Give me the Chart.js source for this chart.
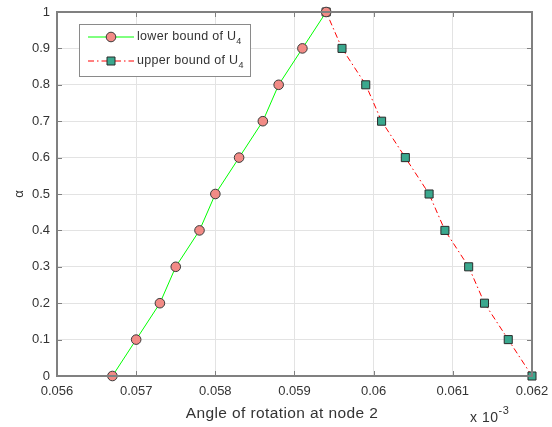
<!DOCTYPE html>
<html>
<head>
<meta charset="utf-8">
<script src="https://cdn.jsdelivr.net/npm/chart.js@4"></script>
<style>
  html, body { margin: 0; padding: 0; background: #fff; }
  #wrap { width: 552px; height: 427px; }
</style>
</head>
<body>
<div id="wrap"><canvas id="chartAlpha" width="552" height="427"></canvas></div>
<script>
// data (x values shown in units of 10^-3)
const alphaLevels = [0, 0.1, 0.2, 0.3, 0.4, 0.5, 0.6, 0.7, 0.8, 0.9, 1];
const lowerBound = [0.0567, 0.0570, 0.0573, 0.0575, 0.0578, 0.0580, 0.0583, 0.0586, 0.0588, 0.0591, 0.0594];
const upperBound = [0.0620, 0.0617, 0.0614, 0.0612, 0.0609, 0.0607, 0.0604, 0.0601, 0.0599, 0.0596, 0.0594];
const xTicks = [0.056, 0.057, 0.058, 0.059, 0.060, 0.061, 0.062];
const yTicks = [0, 0.1, 0.2, 0.3, 0.4, 0.5, 0.6, 0.7, 0.8, 0.9, 1];
const seriesNames = ['lower bound of U', 'upper bound of U'];
const xTitle = 'Angle of rotation at node 2';

const FONT = '"Liberation Sans", Arial, sans-serif';
const TXT = '#333333';
const AXIS = '#808080';

const toPoints = (xs) => xs.map((x, i) => ({ x: x, y: alphaLevels[i] }));

/* ==============================
   INWARD TICKS + LABELS
================================ */
const matlabAxes = {
    id: 'matlabAxes',
    afterDraw(chart) {
        const { ctx, chartArea: a, scales } = chart;
        ctx.save();
        ctx.strokeStyle = AXIS;
        ctx.lineWidth = 1;
        const len = 5;
        xTicks.forEach(v => {
            const px = Math.round(scales.x.getPixelForValue(v)) + 0.5;
            ctx.beginPath();
            ctx.moveTo(px, a.bottom); ctx.lineTo(px, a.bottom - len);
            ctx.moveTo(px, a.top); ctx.lineTo(px, a.top + len);
            ctx.stroke();
        });
        yTicks.forEach(v => {
            const py = Math.round(scales.y.getPixelForValue(v)) + 0.5;
            ctx.beginPath();
            ctx.moveTo(a.left, py); ctx.lineTo(a.left + len, py);
            ctx.moveTo(a.right, py); ctx.lineTo(a.right - len, py);
            ctx.stroke();
        });
        // box
        ctx.lineWidth = 2;
        ctx.strokeRect(a.left, a.top, a.right - a.left, a.bottom - a.top);

        // x axis title
        ctx.fillStyle = TXT;
        ctx.textAlign = 'center';
        ctx.textBaseline = 'middle';
        ctx.letterSpacing = '0.4px';
        ctx.font = '15.5px ' + FONT;
        ctx.fillText(xTitle, 282, 414);

        // x 10^-3
        ctx.textBaseline = 'alphabetic';
        ctx.textAlign = 'left';
        ctx.letterSpacing = '0.5px';
        ctx.font = '14px ' + FONT;
        ctx.fillText('x 10', 470, 422);
        const w = ctx.measureText('x 10').width;
        ctx.font = '11px ' + FONT;
        ctx.fillText('-3', 470 + w, 414);
        ctx.restore();
    }
};

/* ==============================
   LEGEND (inside, with subscripts)
================================ */
const insideLegend = {
    id: 'insideLegend',
    afterDraw(chart) {
        const ctx = chart.ctx;
        const bx = 79.5, by = 24.5, bw = 171, bh = 52;
        ctx.save();
        ctx.fillStyle = '#ffffff';
        ctx.fillRect(bx, by, bw, bh);
        ctx.strokeStyle = '#8a8a8a';
        ctx.lineWidth = 1;
        ctx.strokeRect(bx, by, bw, bh);

        chart.data.datasets.forEach((ds, i) => {
            const y = 37 + i * 24;
            ctx.strokeStyle = ds.borderColor;
            ctx.lineWidth = 1;
            ctx.setLineDash(ds.borderDash || []);
            ctx.beginPath();
            ctx.moveTo(88, y); ctx.lineTo(134, y);
            ctx.stroke();
            ctx.setLineDash([]);
            ctx.fillStyle = ds.pointBackgroundColor;
            ctx.strokeStyle = ds.pointBorderColor;
            ctx.beginPath();
            if (ds.pointStyle === 'rect') {
                ctx.rect(107, y - 4, 8, 8);
            } else {
                ctx.arc(111, y, 4.8, 0, Math.PI * 2);
            }
            ctx.fill();
            ctx.stroke();

            ctx.fillStyle = TXT;
            ctx.textAlign = 'left';
            ctx.textBaseline = 'middle';
            ctx.letterSpacing = '0.3px';
            ctx.font = '12.5px ' + FONT;
            ctx.fillText(seriesNames[i], 137, y);
            const w = ctx.measureText(seriesNames[i]).width;
            ctx.font = '9px ' + FONT;
            ctx.fillText('4', 137 + w, y + 5);
        });
        ctx.restore();
    }
};

const ctx = document.getElementById('chartAlpha');

new Chart(ctx, {
    type: 'line',
    data: {
        datasets: [{
            label: seriesNames[0],
            data: toPoints(lowerBound),
            borderColor: '#00ff00',
            borderWidth: 1,
            pointStyle: 'circle',
            pointRadius: 4.8,
            pointBackgroundColor: '#f28b86',
            pointBorderColor: '#3a3a3a',
            pointBorderWidth: 1,
            tension: 0
        }, {
            label: seriesNames[1],
            data: toPoints(upperBound),
            borderColor: '#ff0000',
            borderWidth: 1,
            borderDash: [6, 3, 1.5, 3],
            pointStyle: 'rect',
            pointRadius: 5.7,
            pointBackgroundColor: '#3aa88e',
            pointBorderColor: '#2a2a2a',
            pointBorderWidth: 1,
            tension: 0
        }]
    },
    options: {
        responsive: false,
        animation: false,
        clip: false,
        layout: { padding: { top: 12, right: 20, left: 0, bottom: 0 } },
        plugins: {
            legend: { display: false },
            tooltip: { enabled: false }
        },
        scales: {
            x: {
                type: 'linear',
                min: 0.056,
                max: 0.062,
                afterBuildTicks: (s) => { s.ticks = xTicks.map(v => ({ value: v })); },
                afterFit: (s) => {
                    s.height = 51;
                    s.paddingLeft = 0;
                    s.paddingRight = 0;
                },
                border: { display: false },
                grid: { color: '#e3e3e3', drawTicks: false },
                ticks: {
                    padding: 8,
                    color: TXT,
                    font: { family: FONT, size: 13 },
                    callback: (v) => String(Number(v.toFixed(4)))
                }
            },
            y: {
                type: 'linear',
                min: 0,
                max: 1,
                afterBuildTicks: (s) => { s.ticks = yTicks.map(v => ({ value: v })); },
                afterFit: (s) => {
                    s.width = 57;
                    s.paddingTop = 0;
                    s.paddingBottom = 0;
                },
                border: { display: false },
                grid: { color: '#e3e3e3', drawTicks: false },
                ticks: {
                    padding: 7,
                    color: TXT,
                    font: { family: FONT, size: 13 },
                    callback: (v) => String(Number(v.toFixed(2)))
                },
                title: {
                    display: true,
                    text: 'α',
                    color: TXT,
                    font: { family: FONT, size: 13 },
                    padding: { top: 12, bottom: 0 }
                }
            }
        }
    },
    plugins: [matlabAxes, insideLegend]
});
</script>
</body>
</html>
